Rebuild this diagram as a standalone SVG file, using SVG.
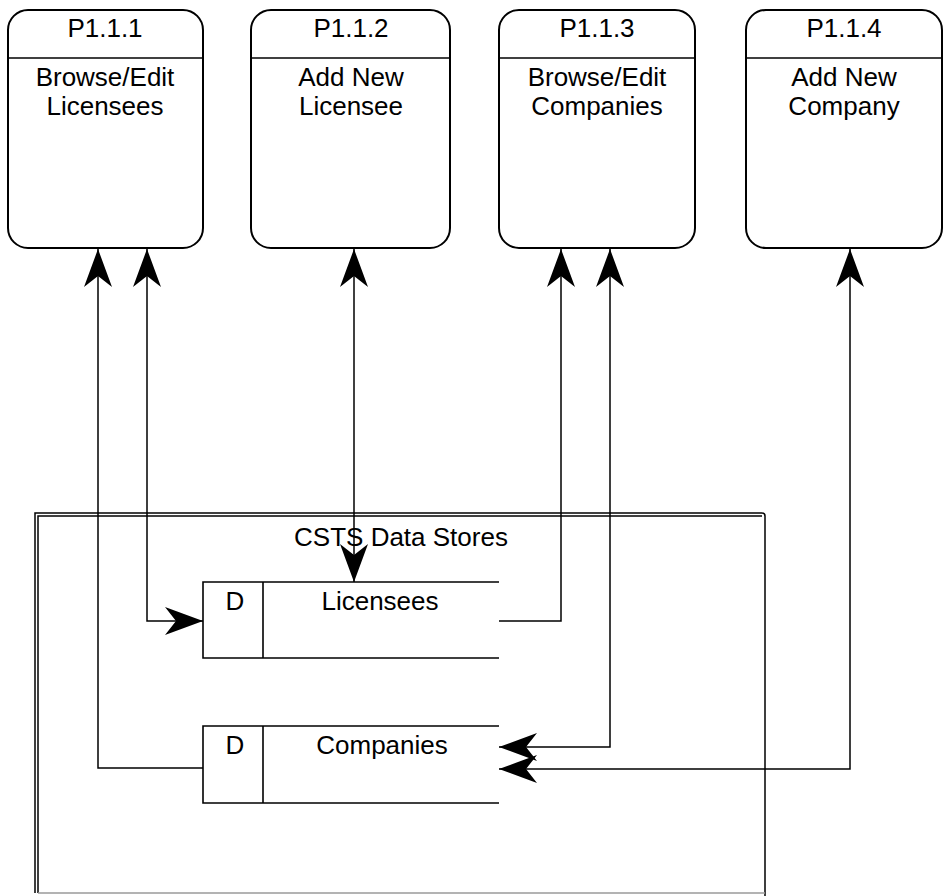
<svg xmlns="http://www.w3.org/2000/svg" width="944" height="896" viewBox="0 0 944 896">
  <style>
    .proc { fill: #fff; stroke: #000; stroke-width: 2; }
    .rule { stroke: #000; stroke-width: 1.6; fill: none; }
    .store { stroke: #000; stroke-width: 1.6; fill: none; }
    .flow { stroke: #000; stroke-width: 1.5; fill: none; marker-end: url(#barb); }
    .flow2 { marker-start: url(#barb); }
    .frame { stroke: #000; stroke-width: 1.5; fill: none; }
    text { font-family: "Liberation Sans", Arial, sans-serif; font-size: 26px; fill: #000; text-anchor: middle; }
  </style>
  <defs>
    <marker id="barb" viewBox="-40 -16 42 32" markerWidth="42" markerHeight="32" refX="0" refY="0" orient="auto-start-reverse" markerUnits="userSpaceOnUse">
      <path d="M0,0 L-38,-14 L-27,0 L-38,14 Z" fill="#000"/>
    </marker>
  </defs>

  <rect width="944" height="896" fill="#fff"/>

  <!-- data store frame -->
  <g id="frame">
    <path class="frame" d="M35,893 V513 H762 Q765,513 765,516 V896"/>
    <path class="frame" d="M38,893 V516 H762"/>
    <line x1="38" y1="893" x2="765" y2="893" stroke="#9a9a9a" stroke-width="1.5"/>
    <text x="401" y="546">CSTS Data Stores</text>
  </g>

  <!-- processes -->
  <g id="p111">
    <rect class="proc" x="8" y="10" width="195" height="238" rx="20"/>
    <line class="rule" x1="8" y1="58" x2="203" y2="58"/>
    <text x="105" y="37">P1.1.1</text>
    <text x="105" y="86">Browse/Edit</text>
    <text x="105" y="115">Licensees</text>
  </g>
  <g id="p112">
    <rect class="proc" x="251" y="10" width="199" height="238" rx="20"/>
    <line class="rule" x1="251" y1="58" x2="450" y2="58"/>
    <text x="351" y="37">P1.1.2</text>
    <text x="351" y="86">Add New</text>
    <text x="351" y="115">Licensee</text>
  </g>
  <g id="p113">
    <rect class="proc" x="499" y="10" width="196" height="238" rx="20"/>
    <line class="rule" x1="499" y1="58" x2="695" y2="58"/>
    <text x="597" y="37">P1.1.3</text>
    <text x="597" y="86">Browse/Edit</text>
    <text x="597" y="115">Companies</text>
  </g>
  <g id="p114">
    <rect class="proc" x="746" y="10" width="196" height="238" rx="20"/>
    <line class="rule" x1="746" y1="58" x2="942" y2="58"/>
    <text x="844" y="37">P1.1.4</text>
    <text x="844" y="86">Add New</text>
    <text x="844" y="115">Company</text>
  </g>

  <!-- data stores -->
  <g id="d-licensees">
    <path class="store" d="M499,582 H203 V658 H499 M263,582 V658"/>
    <text x="235" y="610">D</text>
    <text x="380" y="610">Licensees</text>
  </g>
  <g id="d-companies">
    <path class="store" d="M499,726 H203 V803 H499 M263,726 V803"/>
    <text x="235" y="754">D</text>
    <text x="382" y="754">Companies</text>
  </g>

  <!-- data flows -->
  <g id="connectors">
    <path class="flow" d="M203,768 H98 V249"/>
    <path class="flow flow2" d="M203,621 H147 V249"/>
    <path class="flow flow2" d="M354,582 V249"/>
    <path class="flow" d="M499,621 H561 V249"/>
    <path class="flow flow2" d="M499,747 H610 V249"/>
    <path class="flow flow2" d="M499,769 H850 V249"/>
  </g>
</svg>
